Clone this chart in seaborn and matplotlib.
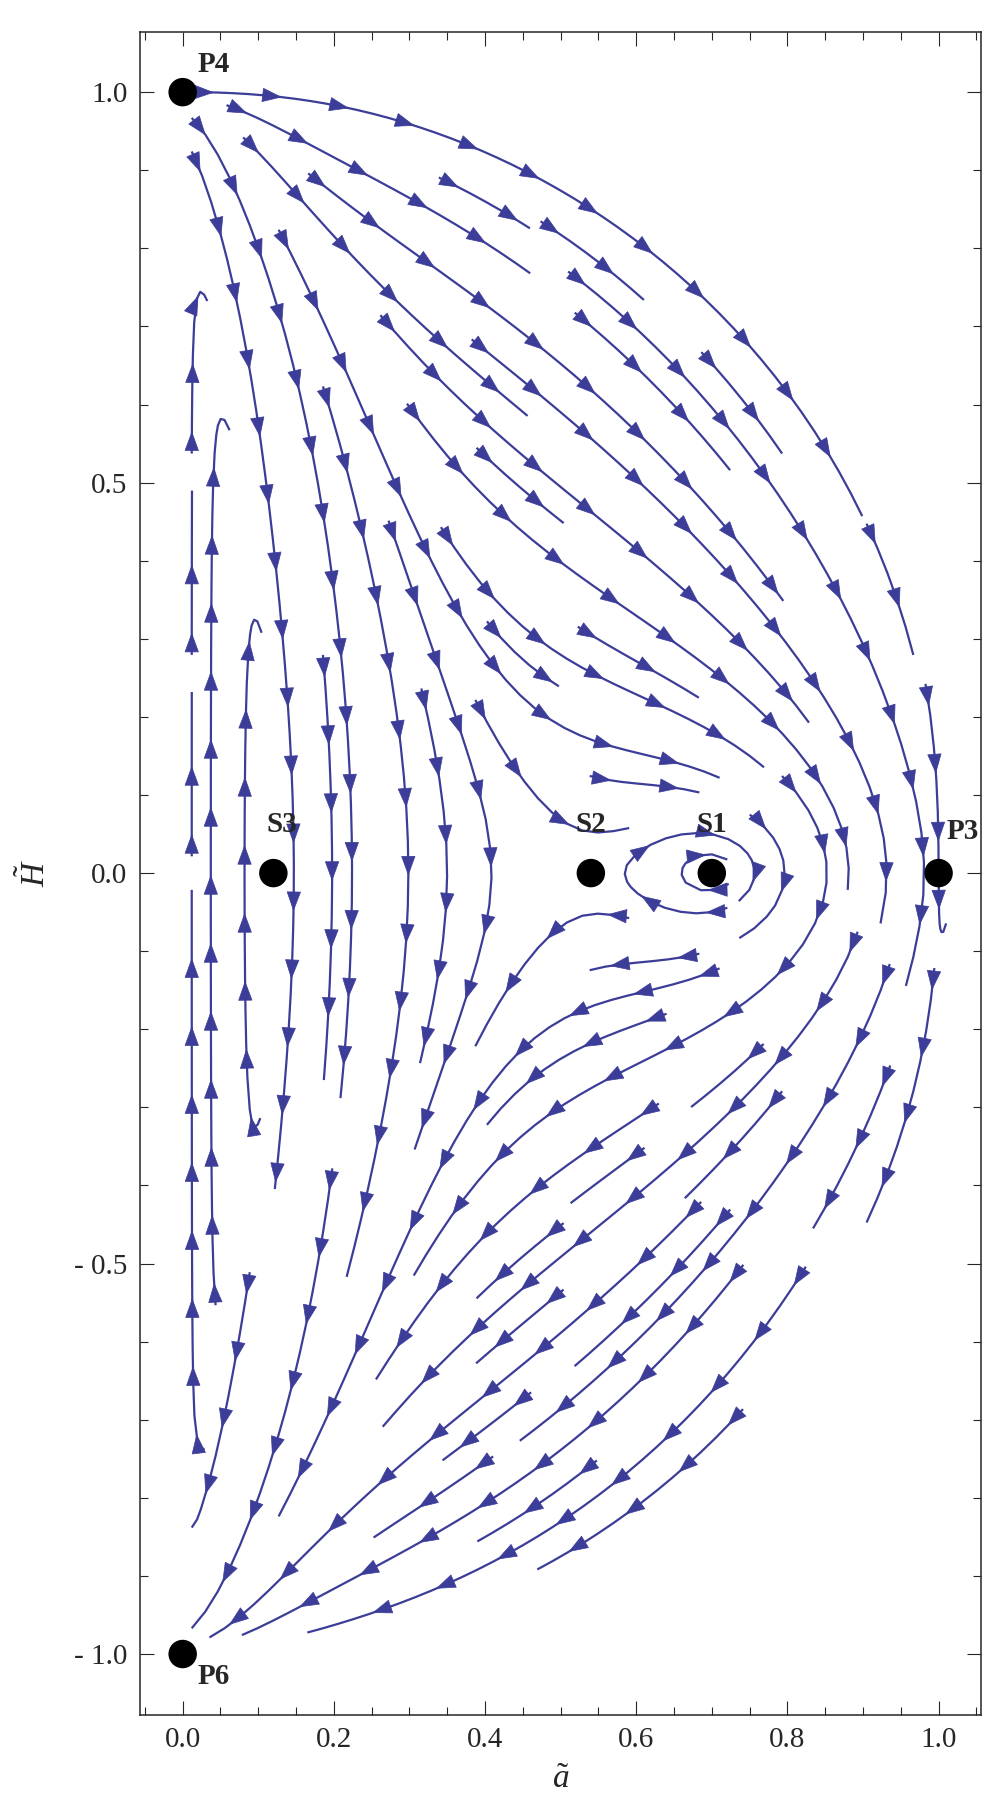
import matplotlib
matplotlib.use("Agg")
import matplotlib.pyplot as plt
import matplotlib.ticker as mticker
from matplotlib.patches import FancyArrowPatch
import numpy as np
import pandas as pd
import seaborn as sns

# --- DATA ---
# fixed points of the system
point_names = ["P4", "P6", "P3", "S1", "S2", "S3"]
point_a = [0.0, 0.0, 1.0, 0.70, 0.54, 0.12]
point_H = [1.0, -1.0, 0.0, 0.0, 0.0, 0.0]
# interior fixed points on the H = 0 axis (S3, S2, S1)
axis_roots = [0.12, 0.54, 0.70]

x_ticks = [0.0, 0.2, 0.4, 0.6, 0.8, 1.0]
y_ticks = [-1.0, -0.5, 0.0, 0.5, 1.0]

# label offsets in points (dx, dy)
label_offsets = {"P4": (22, 20), "P6": (22, -16), "P3": (17, 30),
                 "S1": (0, 35), "S2": (0, 35), "S3": (6, 35)}

stream_color = "#3c3c99"
C_H = 2.5


def field(a, H):
    """phase space velocity, circle a^2 + H^2 = 1 is invariant"""
    r2 = 1 - a**2 - H**2
    s3 = axis_roots[0] * (1 - H**2)**2
    p = (a - s3) * (a - axis_roots[1]) * (a - axis_roots[2])
    k = 45 * np.exp(-a / 0.12) * (1 + 4 * (1 - H**2)**3) + 3
    q = a**2 - k * p - C_H * a**2 * H**2
    da = a * H * (1 - a**2)
    dH = -a**2 * (1 - a**2) + r2 * q
    return da, dH


sns.set_style("ticks")
plt.rcParams["font.family"] = "serif"
plt.rcParams["font.serif"] = ["Liberation Serif", "DejaVu Serif"]
plt.rcParams["mathtext.fontset"] = "custom"
plt.rcParams["mathtext.rm"] = "Liberation Serif"
plt.rcParams["mathtext.it"] = "Liberation Serif:italic"

fig = plt.figure(figsize=(10.04, 18.09), dpi=100)
ax = fig.add_axes([0.1394, 0.052, 0.977 - 0.1394, 0.9823 - 0.052])
ax.set_xlim(-0.0565, 1.056)
ax.set_ylim(-1.078, 1.077)

a_grid = np.linspace(0.012, 1.01, 200)
H_grid = np.linspace(-1.01, 1.01, 405)
A, HH = np.meshgrid(a_grid, H_grid)
U, V = field(A, HH)
outside = A**2 + HH**2 > 1.015**2
U = np.where(outside, np.nan, U)
V = np.where(outside, np.nan, V)

sp = ax.streamplot(a_grid, H_grid, U, V, density=(0.8, 1.6),
                   color=stream_color, linewidth=1.6, arrowstyle="-",
                   maxlength=1.4)
# drop the single mid-line arrows, Mathematica style arrows are added below
for p in list(ax.patches):
    p.remove()

# rebuild continuous streamlines from the line collection
segs = [np.asarray(s) for s in sp.lines.get_segments()]
lines = []
if segs and all(len(s) == 2 for s in segs):
    cur = None
    for s in segs:
        if cur is not None and np.allclose(s[0], cur[-1]):
            cur.append(s[1])
        else:
            if cur is not None:
                lines.append(np.array(cur))
            cur = [s[0], s[1]]
    if cur is not None:
        lines.append(np.array(cur))
else:
    lines = segs

spacing = 68.0  # px between arrows
for line in lines:
    if len(line) < 3:
        continue
    pix = ax.transData.transform(line)
    step = np.hypot(*np.diff(pix, axis=0).T)
    cum = np.concatenate([[0], np.cumsum(step)])
    total = cum[-1]
    if total < 25:
        continue
    for s0 in np.arange(0.3 * spacing, total - 8, spacing):
        x0 = np.interp(s0 - 2, cum, line[:, 0])
        y0 = np.interp(s0 - 2, cum, line[:, 1])
        x1 = np.interp(s0 + 2, cum, line[:, 0])
        y1 = np.interp(s0 + 2, cum, line[:, 1])
        # orient each head with the local flow
        du, dv = field(0.5 * (x0 + x1), 0.5 * (y0 + y1))
        if du * (x1 - x0) + dv * (y1 - y0) < 0:
            x0, y0, x1, y1 = x1, y1, x0, y0
        ax.add_patch(FancyArrowPatch(
            (x0, y0), (x1, y1),
            arrowstyle="-|>,head_length=0.55,head_width=0.2",
            mutation_scale=24, color=stream_color, lw=0.5,
            shrinkA=0, shrinkB=0, zorder=3))

pts = pd.DataFrame({"a": point_a, "H": point_H, "name": point_names})
sns.scatterplot(data=pts, x="a", y="H", ax=ax, color="black", s=420,
                edgecolor="none", zorder=5)
for _, row in pts.iterrows():
    ax.annotate(row["name"], (row["a"], row["H"]),
                xytext=label_offsets[row["name"]], textcoords="offset points",
                ha="center", va="center", fontsize=21, fontweight="bold")

ax.set_xticks(x_ticks)
ax.set_yticks(y_ticks)
ax.xaxis.set_minor_locator(mticker.MultipleLocator(0.05))
ax.yaxis.set_minor_locator(mticker.MultipleLocator(0.1))
fmt = mticker.FuncFormatter(
    lambda v, pos: ("- " if v < -1e-9 else "") + f"{abs(v):.1f}")
ax.xaxis.set_major_formatter(fmt)
ax.yaxis.set_major_formatter(fmt)
ax.tick_params(which="both", direction="in", top=True, right=True,
               labelsize=21, width=0.8, pad=9)
ax.tick_params(which="major", length=10)
ax.tick_params(which="minor", length=5.5)
for s in ax.spines.values():
    s.set_linewidth(1.1)
ax.set_xlabel(r"$\tilde{a}$", fontsize=24, labelpad=8)
ax.set_ylabel(r"$\tilde{H}$", fontsize=24, labelpad=16)
ax.set_xlim(-0.0565, 1.056)
ax.set_ylim(-1.078, 1.077)

fig.savefig("out.png", dpi=100)
